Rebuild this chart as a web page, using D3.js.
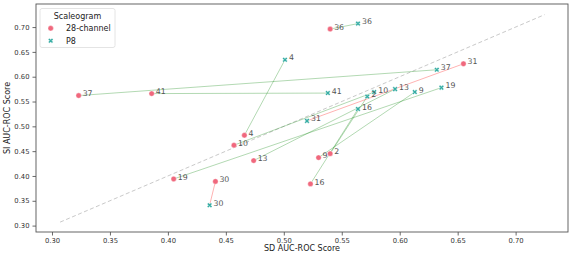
<!DOCTYPE html>
<html>
<head>
<meta charset="utf-8">
<script src="https://cdn.jsdelivr.net/npm/d3@7"></script>
<style>
  body { margin: 0; background: #fff; }
  text { font-family: "DejaVu Sans", sans-serif; }
</style>
</head>
<body>
<div id="chart"></div>
<script>
// subject ids and scores
const subjects = ["2", "4", "9", "10", "13", "16", "19", "30", "31", "36", "37", "41"];
const sd28 = [0.540, 0.466, 0.530, 0.457, 0.474, 0.523, 0.405, 0.441, 0.655, 0.540, 0.323, 0.386];
const si28 = [0.445, 0.482, 0.437, 0.462, 0.431, 0.384, 0.394, 0.389, 0.626, 0.696, 0.562, 0.566];
const sdP8 = [0.572, 0.501, 0.613, 0.578, 0.596, 0.564, 0.636, 0.436, 0.520, 0.564, 0.632, 0.538];
const siP8 = [0.560, 0.634, 0.569, 0.569, 0.575, 0.535, 0.578, 0.341, 0.511, 0.707, 0.614, 0.567];
const xTicks = [0.30, 0.35, 0.40, 0.45, 0.50, 0.55, 0.60, 0.65, 0.70];
const yTicks = [0.30, 0.35, 0.40, 0.45, 0.50, 0.55, 0.60, 0.65, 0.70];
const diagonal = [0.307, 0.725];
const groups = ["28-channel", "P8"];

const W = 574, H = 259;
const margin = {top: 4, right: 6, bottom: 27, left: 36};
const width = W - margin.left - margin.right,
      height = H - margin.top - margin.bottom;

const red = "#f0687d", teal = "#36ada4";

const svg = d3.select("#chart").append("svg")
    .attr("width", W)
    .attr("height", H);

const g = svg.append("g")
    .attr("transform", `translate(${margin.left},${margin.top})`);

const x = d3.scaleLinear().domain([0.2862, 0.7452]).range([0, width]);
const y = d3.scaleLinear().domain([0.2871, 0.7465]).range([height, 0]);

// axes
const xAxis = g.append("g")
    .attr("transform", `translate(0,${height})`)
    .call(d3.axisBottom(x).tickValues(xTicks).tickFormat(d3.format(".2f")).tickSize(3.5).tickPadding(3));
const yAxis = g.append("g")
    .call(d3.axisLeft(y).tickValues(yTicks).tickFormat(d3.format(".2f")).tickSize(3.5).tickPadding(3));
[xAxis, yAxis].forEach(a => {
    a.select(".domain").remove();
    a.selectAll("line").attr("stroke", "#444").attr("stroke-width", 0.8);
    a.selectAll("text").attr("font-size", 6.8).attr("fill", "#333")
        .attr("font-family", "DejaVu Sans");
});

// spines
g.append("rect")
    .attr("width", width).attr("height", height)
    .attr("fill", "none").attr("stroke", "#555").attr("stroke-width", 0.9);

// diagonal reference
g.append("line")
    .attr("x1", x(diagonal[0])).attr("y1", y(diagonal[0]))
    .attr("x2", x(diagonal[1])).attr("y2", y(diagonal[1]))
    .attr("stroke", "#aaa").attr("stroke-width", 0.9)
    .attr("stroke-dasharray", "4,2.5").attr("opacity", 0.7);

const pairs = subjects.map((s, i) => ({
    id: s, sd28: sd28[i], si28: si28[i], sdP8: sdP8[i], siP8: siP8[i]
}));

// connecting lines: green if P8 improves, red otherwise
g.selectAll(".pair")
    .data(pairs)
    .enter()
    .append("line")
    .attr("x1", d => x(d.sd28)).attr("y1", d => y(d.si28))
    .attr("x2", d => x(d.sdP8)).attr("y2", d => y(d.siP8))
    .attr("stroke", d => (d.sdP8 + d.siP8) > (d.sd28 + d.si28) ? "green" : "red")
    .attr("stroke-opacity", 0.3)
    .attr("stroke-width", 1);

// points
g.selectAll(".dot28")
    .data(pairs)
    .enter()
    .append("circle")
    .attr("cx", d => x(d.sd28)).attr("cy", d => y(d.si28))
    .attr("r", 2.7)
    .attr("fill", red).attr("stroke", "#fff").attr("stroke-width", 0.4);

const xSym = d3.symbol().type(d3.symbolCross).size(16);
g.selectAll(".dotP8")
    .data(pairs)
    .enter()
    .append("path")
    .attr("d", xSym)
    .attr("transform", d => `translate(${x(d.sdP8)},${y(d.siP8)}) rotate(45)`)
    .attr("fill", teal).attr("stroke", "#fff").attr("stroke-width", 0.4);

// labels
const labels = [];
pairs.forEach(d => {
    labels.push({t: d.id, sx: d.sd28, sy: d.si28});
    labels.push({t: d.id, sx: d.sdP8, sy: d.siP8});
});
g.selectAll(".lbl")
    .data(labels)
    .enter()
    .append("text")
    .attr("x", d => x(d.sx) + 4)
    .attr("y", d => y(d.sy) + 0.6)
    .attr("font-size", 7.8)
    .attr("fill", "#555")
    .text(d => d.t);

// axis titles
svg.append("text")
    .attr("x", margin.left + width / 2).attr("y", 251)
    .attr("text-anchor", "middle").attr("font-size", 8)
    .attr("fill", "#222")
    .text("SD AUC-ROC Score");
svg.append("text")
    .attr("transform", `translate(10,${margin.top + height / 2}) rotate(-90)`)
    .attr("text-anchor", "middle").attr("font-size", 8)
    .attr("fill", "#222")
    .text("SI AUC-ROC Score");

// legend
const leg = svg.append("g");
leg.append("rect")
    .attr("x", 40).attr("y", 8.5).attr("width", 75).attr("height", 39)
    .attr("rx", 2).attr("fill", "#fff").attr("fill-opacity", 0.8)
    .attr("stroke", "#ddd").attr("stroke-width", 0.8);
leg.append("text")
    .attr("x", 77.5).attr("y", 18.5).attr("text-anchor", "middle")
    .attr("font-size", 8).attr("fill", "#222").text("Scaleogram");
leg.append("circle")
    .attr("cx", 50.7).attr("cy", 28.3).attr("r", 2.7)
    .attr("fill", red).attr("stroke", "#fff").attr("stroke-width", 0.4);
leg.append("path")
    .attr("d", xSym)
    .attr("transform", "translate(50.7,40.7) rotate(45)")
    .attr("fill", teal).attr("stroke", "#fff").attr("stroke-width", 0.4);
leg.selectAll(".lt")
    .data(groups)
    .enter()
    .append("text")
    .attr("x", 66).attr("y", (d, i) => 31.3 + i * 12.4)
    .attr("font-size", 8).attr("fill", "#222")
    .text(d => d);
</script>
</body>
</html>
